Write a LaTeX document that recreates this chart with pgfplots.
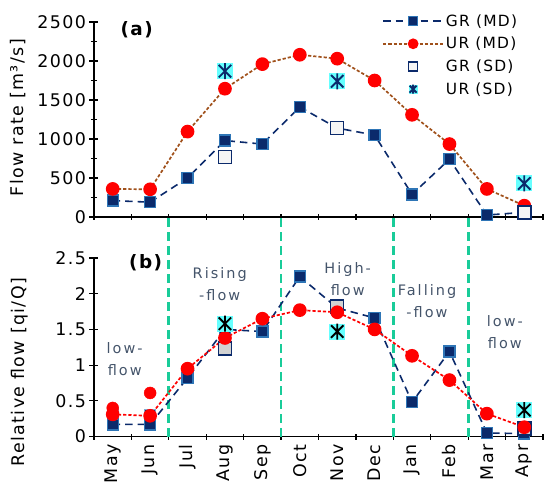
\documentclass[border=0pt]{standalone}
\usepackage{pgfplots}
\pgfplotsset{compat=1.18}
\usepackage{fontspec}
\setmainfont{DejaVu Sans}[LetterSpace=8]
\definecolor{grnavy}{HTML}{0B2A6B}
\definecolor{grblue}{HTML}{2E75B6}
\definecolor{urbrown}{HTML}{A0501A}
\definecolor{urred}{HTML}{FF0000}
\definecolor{sdcyan}{HTML}{66FFFF}
\definecolor{zonegreen}{HTML}{19CC99}
\definecolor{zonetext}{HTML}{44546A}
\pgfdeclareplotmark{astsq}{%
  \pgfpathrectangle{\pgfqpoint{-\pgfplotmarksize}{-\pgfplotmarksize}}{\pgfqpoint{2\pgfplotmarksize}{2\pgfplotmarksize}}%
  \pgfusepathqfill
  \pgfpathmoveto{\pgfqpoint{0pt}{-\pgfplotmarksize}}\pgfpathlineto{\pgfqpoint{0pt}{\pgfplotmarksize}}%
  \pgfpathmoveto{\pgfqpointpolar{45}{1.1\pgfplotmarksize}}\pgfpathlineto{\pgfqpointpolar{225}{1.1\pgfplotmarksize}}%
  \pgfpathmoveto{\pgfqpointpolar{135}{1.1\pgfplotmarksize}}\pgfpathlineto{\pgfqpointpolar{315}{1.1\pgfplotmarksize}}%
  \pgfusepathqstroke
}
\pgfplotsset{
  base/.style={
    scale only axis, width=449bp,
    xmin=-0.5, xmax=11.5,
    axis lines=left, axis line style={line width=1.2pt,-},
    tick align=center,
    major tick length=9bp, minor tick length=6bp,
    every tick/.style={black, line width=1.2pt},
    xtick={0,...,11},
    minor xtick={-0.5,0.5,...,11.5},
    major x tick style={draw=none},
    minor x tick style={black, line width=1.2pt},
    ticklabel style={font=\fontsize{17.5}{20}\selectfont},
    /pgf/number format/assume math mode=true,
    /pgf/number format/1000 sep={},
    clip=false,
    legend image code/.code={\draw[##1, mark indices={2}, mark size=4.5bp] plot coordinates {(0bp,0bp) (30bp,0bp) (60bp,0bp)};},
  },
  grmd/.style={grnavy, line width=1.6pt, dash pattern=on 7.5bp off 5bp, mark=square*, mark size=5.5bp,
    mark options={solid, fill=grnavy, draw=grblue, line width=1.3pt}},
  urmd/.style={line width=1.7pt, dash pattern=on 3.2bp off 2bp, mark=*, mark size=6bp,
    mark options={solid, fill=urred, draw=urred}},
}
\begin{document}
\begin{tikzpicture}
\useasboundingbox (-94bp,-278bp) rectangle (456bp,217bp);
% ---------- panel (a)
\begin{axis}[base, at={(0,0)}, anchor=south west,
  height=195bp, ymin=0, ymax=2500,
  ytick={0,500,...,2500}, minor y tick num=1,
  xticklabels={},
  ylabel={Flow rate [m³/s]},
  every axis y label/.style={at={(rel axis cs:0,0.51)},xshift=-76bp,rotate=90,anchor=center,font=\fontsize{17.5}{20}\selectfont},
  legend style={draw=none, fill=none, at={(rel axis cs:0.635,1.06)}, anchor=north west,
    font=\fontsize{15.5}{18}\selectfont, row sep=5.5bp, cells={anchor=west}},
]
\addplot[grmd, mark indices={1,2,3,4,5,6,8,9,10,11}] coordinates {
(0,210) (1,190) (2,500) (3,980) (4,935) (5,1410) (6,1140) (7,1050) (8,290) (9,740) (10,25) (11,60)};
\addlegendentry{GR (MD)}
\addplot[urmd, urbrown] coordinates {
(0,360) (1,355) (2,1095) (3,1645) (4,1960) (5,2080) (6,2030) (7,1750) (8,1310) (9,935) (10,360) (11,145)};
\addlegendentry{UR (MD)}
\addplot[only marks, mark=square*, mark size=6.5bp, mark options={fill=gray!8, draw=grnavy, line width=1.5pt}] coordinates {
(3,770) (6,1140) (11,60)};
\addlegendentry{GR (SD)}
\addplot[only marks, mark=astsq, mark size=8bp, mark options={fill=sdcyan, draw=grnavy, line width=1.9pt}] coordinates {
(3,1870) (6,1740) (11,430)};
\addlegendentry{UR (SD)}
\node[font=\bfseries\fontsize{18.5}{20}\selectfont] at (axis cs:0.64,2400) {(a)};
\end{axis}
% ---------- panel (b)
\begin{axis}[base, at={(0,-41bp)}, anchor=north west,
  height=178.5bp, ymin=0, ymax=2.5,
  ytick={0,0.5,...,2.5},
  xticklabels={May,Jun,Jul,Aug,Sep,Oct,Nov,Dec,Jan,Feb,Mar,Apr},
  xticklabel style={rotate=90, anchor=east},
  ylabel={Relative flow [qi/Q]},
  every axis y label/.style={at={(rel axis cs:0,0.36)},xshift=-74bp,rotate=90,anchor=center,font=\fontsize{17.5}{20}\selectfont},
]
\foreach \xx in {1.5,4.5,7.5,9.5}{
  \edef\tmp{\noexpand\draw[zonegreen, line width=2.8pt, dash pattern=on 9bp off 5bp] (axis cs:\xx,0) -- (axis cs:\xx,3.12);}\tmp
}
\addplot[only marks, mark=square*, mark size=5.5bp, mark options={fill=grnavy, draw=grblue!60, line width=1.3pt}, forget plot] coordinates {(0,0.33) (1,0.30)};
\addplot[only marks, mark=*, mark size=6bp, mark options={fill=urred, draw=urred}, forget plot] coordinates {(0,0.40) (1,0.61)};
\addplot[grmd] coordinates {
(0,0.17) (1,0.17) (2,0.82) (3,1.50) (4,1.47) (5,2.24) (6,1.80) (7,1.66) (8,0.48) (9,1.19) (10,0.05) (11,0.04)};
\addplot[only marks, mark=square*, mark size=6.5bp, mark options={fill=gray!35, draw=grnavy, line width=1.5pt}] coordinates {
(3,1.23) (6,1.82) (11,0.11)};
\addplot[urmd, urred] coordinates {
(0,0.31) (1,0.29) (2,0.95) (3,1.38) (4,1.65) (5,1.77) (6,1.74) (7,1.50) (8,1.13) (9,0.79) (10,0.32) (11,0.13)};
\addplot[only marks, mark=astsq, mark size=8bp, mark options={fill=sdcyan, draw=black, line width=1.9pt}] coordinates {
(3,1.58) (6,1.47) (11,0.37)};
\node[font=\bfseries\fontsize{18.5}{20}\selectfont] at (axis cs:0.88,2.44) {(b)};
\begin{scope}[every node/.style={align=center, text=zonetext, font=\addfontfeatures{LetterSpace=14}\fontsize{14.5}{22}\selectfont}]
\node at (axis cs:0.32,1.08) {low-\\flow};
\node at (axis cs:2.86,2.13) {Rising\\-flow};
\node at (axis cs:6.28,2.20) {High-\\flow};
\node at (axis cs:8.40,1.90) {Falling\\-flow};
\node at (axis cs:10.48,1.46) {low-\\flow};
\end{scope}
\end{axis}
\end{tikzpicture}
\end{document}
